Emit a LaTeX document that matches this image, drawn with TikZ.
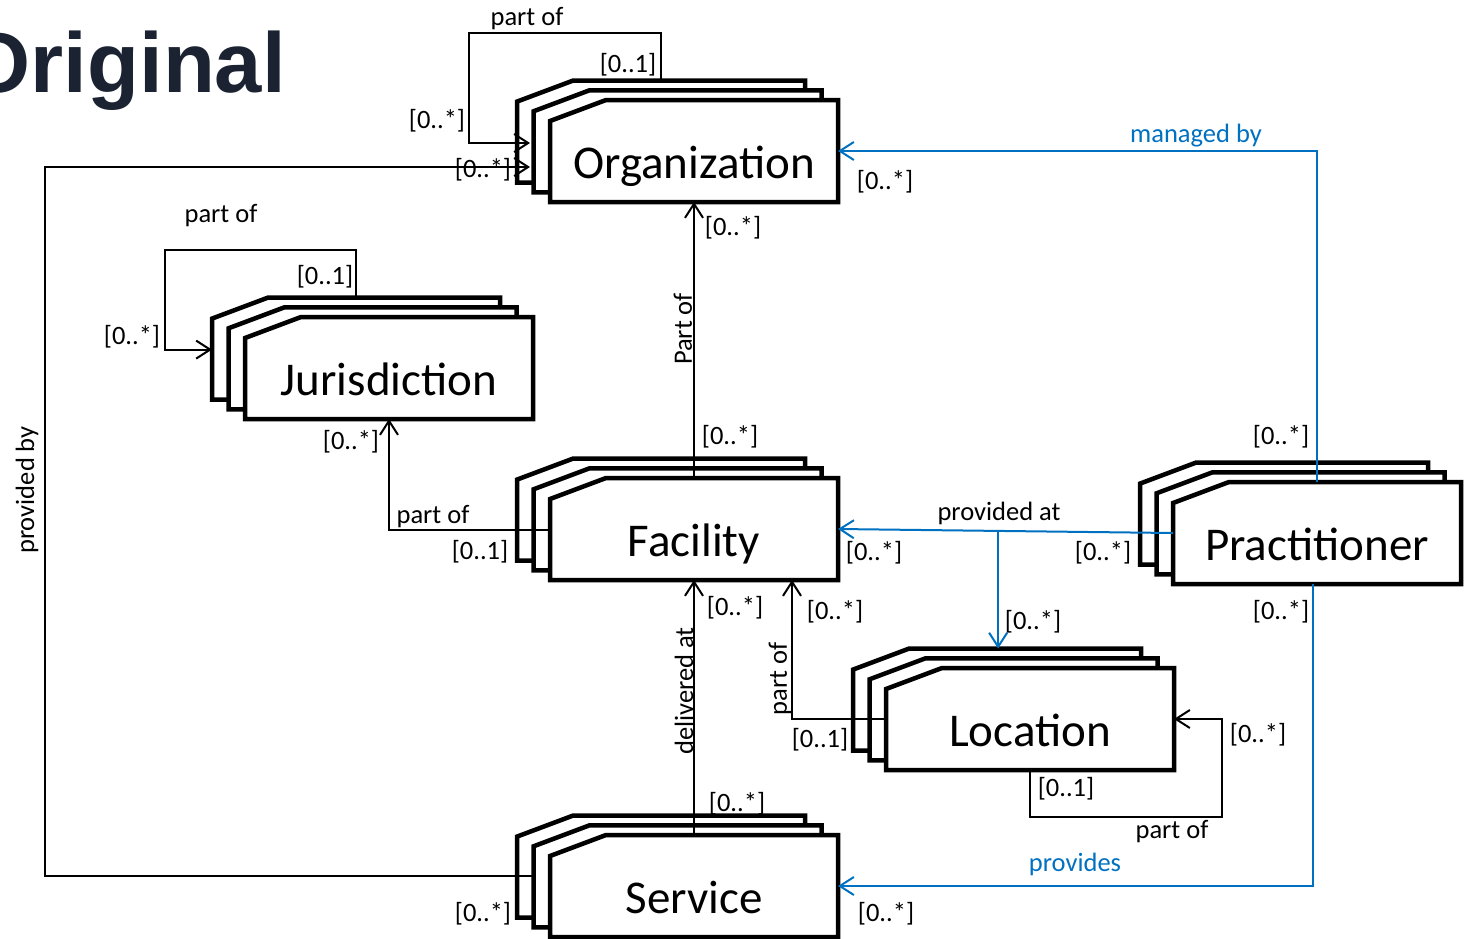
\documentclass[tikz,border=0pt]{standalone}
\usepackage{fontspec}
\setmainfont{Carlito}
\newfontfamily\headfont{Liberation Sans}
\usetikzlibrary{arrows.meta,calc}
\definecolor{linkblue}{HTML}{0070C0}
\definecolor{headnavy}{HTML}{1B2232}

\begin{document}
\begin{tikzpicture}[x=1pt, y=-1pt,
  card/.style={draw, line width=4.5pt, fill=white},
  entity/.style={minimum width=288pt, minimum height=102pt, inner sep=0pt, outer sep=0pt,
    text height=54pt, text depth=0pt, font=\fontsize{47}{47}\selectfont},
  conn/.style={line width=2pt, -{Straight Barb[length=14pt,width=18pt]}},
  bconn/.style={conn, draw=linkblue},
  vlbl/.style={inner sep=0pt, font=\fontsize{26.5}{28}\selectfont, rotate=90},
  lbl/.style={inner sep=0pt, font=\fontsize{26.5}{28}\selectfont, yshift=-2pt},
  blbl/.style={lbl, text=linkblue}]
\useasboundingbox (0,0) rectangle (1470,938);

\node[anchor=base east, inner sep=0pt, text=headnavy,
  font=\headfont\bfseries\fontsize{85}{85}\selectfont] (title) at (286,92) {Original};

% stacked cards, back to front
\foreach \n/\x/\y in {org/550/100, juris/245/317, fac/550/478, prac/1173/482, loc/886/668, serv/550/835} {
  \foreach \k in {2,1,0}
    \draw[card] ({\x-16.5*\k},{\y-9.7*\k+21}) -- ++(56,-21) -- ++(232,0) -- ++(0,102) -- ++(-288,0) -- cycle;
  \coordinate (\n-back) at ({\x-33},{\y-19.4});
}

\node[entity] (org) at (694,151) {Organization};
\node[entity] (juris) at (389,368) {Jurisdiction};
\node[entity] (fac) at (694,529) {Facility};
\node[entity] (prac) at (1317,533) {Practitioner};
\node[entity] (loc) at (1030,719) {Location};
\node[entity] (serv) at (694,886) {Service};

% connectors
\draw[conn] ([xshift=144pt]org-back) |- (469,33) |- ([xshift=-20pt,yshift=8pt]org.west);
\draw[conn] ([xshift=-18pt,yshift=10pt]serv.west) -| (45,167) -- ([xshift=-20pt,yshift=-16pt]org.west);
\draw[bconn] (prac.north) |- (org.east);
\draw[conn] (fac.north) -- (org.south);
\draw[conn] ([xshift=144pt]juris-back) |- (165,250) |- ([yshift=-52pt]juris-back);
\draw[conn] ([yshift=-1pt]fac.west) -| (juris.south);
\draw[bconn] (prac.west) -- coordinate[pos=0.522] (split) (fac.east);
\draw[bconn] (split) -- (split |- loc-back);
\draw[conn] (loc.west) -| ([xshift=98pt]fac.south);
\draw[conn] (loc.south) |- (1222,817) |- (loc.east);
\draw[conn] (serv.north) -- (fac.south);
\draw[bconn] ([xshift=-4pt]prac.south) |- (serv.east);

% labels
\node[lbl] (org loop) at (527,17) {part of};
\node[lbl] (org loop a) at (628,63) {[0..1]};
\node[lbl] (org loop b) at (437,119) {[0..*]};
\node[lbl] (org prov) at (483,168) {[0..*]};
\node[blbl] (org man) at (1196,134) {managed by};
\node[lbl] (org man a) at (885,180) {[0..*]};
\node[lbl] (org part) at (733,226) {[0..*]};
\node[lbl] (juris loop) at (221,214) {part of};
\node[lbl] (juris loop a) at (325,275) {[0..1]};
\node[lbl] (juris loop b) at (132,335) {[0..*]};
\node[vlbl] (fac org) at (683,329) {Part of};
\node[lbl] (fac org a) at (730,435) {[0..*]};
\node[lbl] (prac man) at (1281,435) {[0..*]};
\node[lbl] (juris part) at (351,440) {[0..*]};
\node[lbl] (fac juris) at (433,515) {part of};
\node[lbl] (fac juris a) at (480,550) {[0..1]};
\node[lbl] (prac fac) at (999,511) {provided at};
\node[lbl] (prac fac a) at (874,551) {[0..*]};
\node[lbl] (prac fac b) at (1103,551) {[0..*]};
\node[vlbl] (serv org) at (27,490) {provided by};
\node[lbl] (serv fac a) at (735,606) {[0..*]};
\node[lbl] (loc fac a) at (835,610) {[0..*]};
\node[lbl] (prac loc) at (1033,620) {[0..*]};
\node[lbl] (prac serv a) at (1281,610) {[0..*]};
\node[vlbl] (loc fac) at (780,679) {part of};
\node[vlbl] (serv fac) at (684,691) {delivered at};
\node[lbl] (loc fac b) at (820,738) {[0..1]};
\node[lbl] (loc loop a) at (1258,733) {[0..*]};
\node[lbl] (loc loop b) at (1066,787) {[0..1]};
\node[lbl] (serv fac b) at (737,802) {[0..*]};
\node[lbl] (loc loop) at (1172,830) {part of};
\node[blbl] (prac serv) at (1075,862) {provides};
\node[lbl] (serv org a) at (483,912) {[0..*]};
\node[lbl] (prac serv b) at (886,912) {[0..*]};
\end{tikzpicture}
\end{document}
